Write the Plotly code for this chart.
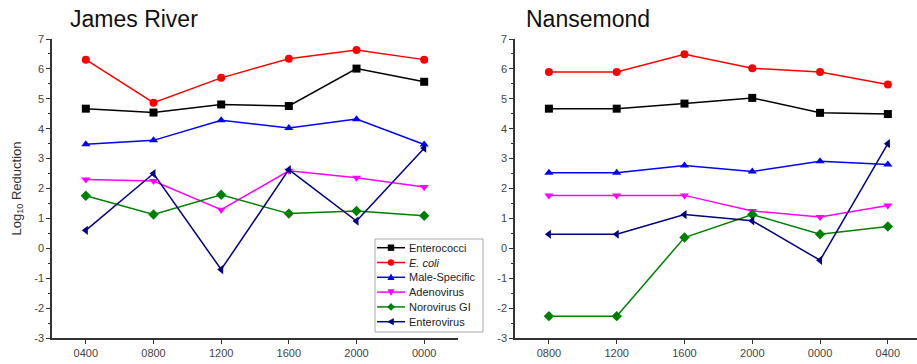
import plotly.graph_objects as go

james_times = ["0400", "0800", "1200", "1600", "2000", "0000"]
nansemond_times = ["0800", "1200", "1600", "2000", "0000", "0400"]

series_names = ["Enterococci", "<i>E. coli</i>", "Male-Specific", "Adenovirus", "Norovirus GI", "Enterovirus"]
series_colors = ["#000000", "#ff0000", "#0000ff", "#ff00ff", "#008000", "#000080"]
series_symbols = ["square", "circle", "triangle-up", "triangle-down", "diamond", "triangle-left"]

james_enterococci = [4.67, 4.54, 4.81, 4.76, 6.01, 5.57]
james_ecoli = [6.31, 4.87, 5.70, 6.34, 6.63, 6.31]
james_male_specific = [3.48, 3.61, 4.28, 4.02, 4.32, 3.47]
james_adenovirus = [2.30, 2.25, 1.29, 2.59, 2.36, 2.05]
james_norovirus = [1.76, 1.13, 1.79, 1.16, 1.25, 1.09]
james_enterovirus = [0.60, 2.50, -0.71, 2.63, 0.91, 3.35]

nans_enterococci = [4.67, 4.67, 4.84, 5.03, 4.53, 4.49]
nans_ecoli = [5.90, 5.90, 6.49, 6.02, 5.90, 5.48]
nans_male_specific = [2.53, 2.53, 2.77, 2.57, 2.91, 2.80]
nans_adenovirus = [1.77, 1.77, 1.77, 1.25, 1.05, 1.43]
nans_norovirus = [-2.27, -2.27, 0.36, 1.13, 0.47, 0.73]
nans_enterovirus = [0.47, 0.47, 1.13, 0.92, -0.40, 3.50]

y_ticks = [-3, -2, -1, 0, 1, 2, 3, 4, 5, 6, 7]

james = [james_enterococci, james_ecoli, james_male_specific, james_adenovirus, james_norovirus, james_enterovirus]
nans = [nans_enterococci, nans_ecoli, nans_male_specific, nans_adenovirus, nans_norovirus, nans_enterovirus]

W, H = 917, 364

fig = go.Figure()
for i in range(6):
    fig.add_trace(go.Scatter(
        x=james_times, y=james[i], name=series_names[i], xaxis="x", yaxis="y",
        mode="lines+markers", line=dict(color=series_colors[i], width=1.5),
        marker=dict(symbol=series_symbols[i], size=8, color=series_colors[i]),
        showlegend=False))
for i in range(6):
    fig.add_trace(go.Scatter(
        x=nansemond_times, y=nans[i], name=series_names[i], xaxis="x2", yaxis="y2",
        mode="lines+markers", line=dict(color=series_colors[i], width=1.5),
        marker=dict(symbol=series_symbols[i], size=8, color=series_colors[i]),
        showlegend=False))

tickfont = dict(family="Liberation Sans, Arial, sans-serif", size=11, color="#444444")
axis_common = dict(showline=True, linecolor="#333333", linewidth=1.5, showgrid=False,
                   zeroline=False, ticks="outside", ticklen=4, tickwidth=1.2,
                   tickcolor="#333333", tickfont=tickfont, automargin=False)
yaxis_common = dict(axis_common, range=[-3, 7], tickmode="array", tickvals=y_ticks,
                    ticktext=[str(v) for v in y_ticks],
                    minor=dict(ticks="outside", ticklen=2, tickcolor="#333333", dtick=0.5, tick0=0.5))

ybot = (H - 338) / H
ytop = (H - 39) / H


def px(x):
    return x / W


def py(y):
    return 1 - y / H


# ---- hand-drawn compact legend (matches reference box geometry) ----
shapes = [dict(type="rect", xref="paper", yref="paper", x0=px(375), x1=px(483), y0=py(239), y1=py(332),
               fillcolor="white", line=dict(color="#aaaaaa", width=1), layer="above")]
annotations = []
lx0, lx1, mx, tx = 377, 405, 391, 407
for i in range(6):
    yc = 247.7 + 14.8 * i
    c = series_colors[i]
    shapes.append(dict(type="line", xref="paper", yref="paper", x0=px(lx0), x1=px(lx1), y0=py(yc), y1=py(yc),
                       line=dict(color=c, width=1.5), layer="above"))
    s = 3.2
    sym = series_symbols[i]
    if sym == "square":
        shapes.append(dict(type="rect", xref="paper", yref="paper", x0=px(mx - s), x1=px(mx + s),
                           y0=py(yc + s), y1=py(yc - s), fillcolor=c, line=dict(width=0), layer="above"))
    elif sym == "circle":
        shapes.append(dict(type="circle", xref="paper", yref="paper", x0=px(mx - s), x1=px(mx + s),
                           y0=py(yc + s), y1=py(yc - s), fillcolor=c, line=dict(width=0), layer="above"))
    else:
        if sym == "triangle-up":
            pts = [(mx, yc - s - 0.6), (mx + s + 0.4, yc + s - 0.4), (mx - s - 0.4, yc + s - 0.4)]
        elif sym == "triangle-down":
            pts = [(mx, yc + s + 0.6), (mx + s + 0.4, yc - s + 0.4), (mx - s - 0.4, yc - s + 0.4)]
        elif sym == "diamond":
            pts = [(mx, yc - s - 0.6), (mx + s + 0.6, yc), (mx, yc + s + 0.6), (mx - s - 0.6, yc)]
        else:  # triangle-left
            pts = [(mx - s - 0.6, yc), (mx + s - 0.4, yc - s - 0.4), (mx + s - 0.4, yc + s + 0.4)]
        path = "M " + " L ".join(f"{px(a):.5f},{py(b):.5f}" for a, b in pts) + " Z"
        shapes.append(dict(type="path", xref="paper", yref="paper", path=path, fillcolor=c,
                           line=dict(width=0), layer="above"))
    annotations.append(dict(text=series_names[i], x=px(tx), y=py(yc), xref="paper", yref="paper",
                            xanchor="left", yanchor="middle", showarrow=False,
                            font=dict(size=11, color="#222222")))

annotations += [
    dict(text="James River", x=px(68), y=py(19), xref="paper", yref="paper",
         xanchor="left", yanchor="middle", showarrow=False, font=dict(size=23, color="#111111")),
    dict(text="Nansemond", x=px(524), y=py(19), xref="paper", yref="paper",
         xanchor="left", yanchor="middle", showarrow=False, font=dict(size=23, color="#111111")),
]

fig.update_layout(
    width=W, height=H,
    margin=dict(l=0, r=0, t=0, b=0),
    paper_bgcolor="white", plot_bgcolor="white",
    font=dict(family="Liberation Sans, Arial, sans-serif", color="#222222"),
    showlegend=False,
    xaxis=dict(axis_common, type="category", domain=[52 / W, 458 / W], range=[-0.5, 5.5],
               anchor="y", categoryorder="array", categoryarray=james_times),
    yaxis=dict(yaxis_common, domain=[ybot, ytop], anchor="x",
               title=dict(text="Log<sub>10</sub> Reduction", font=dict(size=13, color="#333333"), standoff=10)),
    xaxis2=dict(axis_common, type="category", domain=[515 / W, 1.0], range=[-0.5, 5.43],
                anchor="y2", categoryorder="array", categoryarray=nansemond_times),
    yaxis2=dict(yaxis_common, domain=[ybot, ytop], anchor="x2"),
    shapes=shapes,
    annotations=annotations,
)

fig.write_html("out.html", config={"displayModeBar": False},
               post_script="document.body.style.margin='0';document.body.style.overflow='hidden';")
